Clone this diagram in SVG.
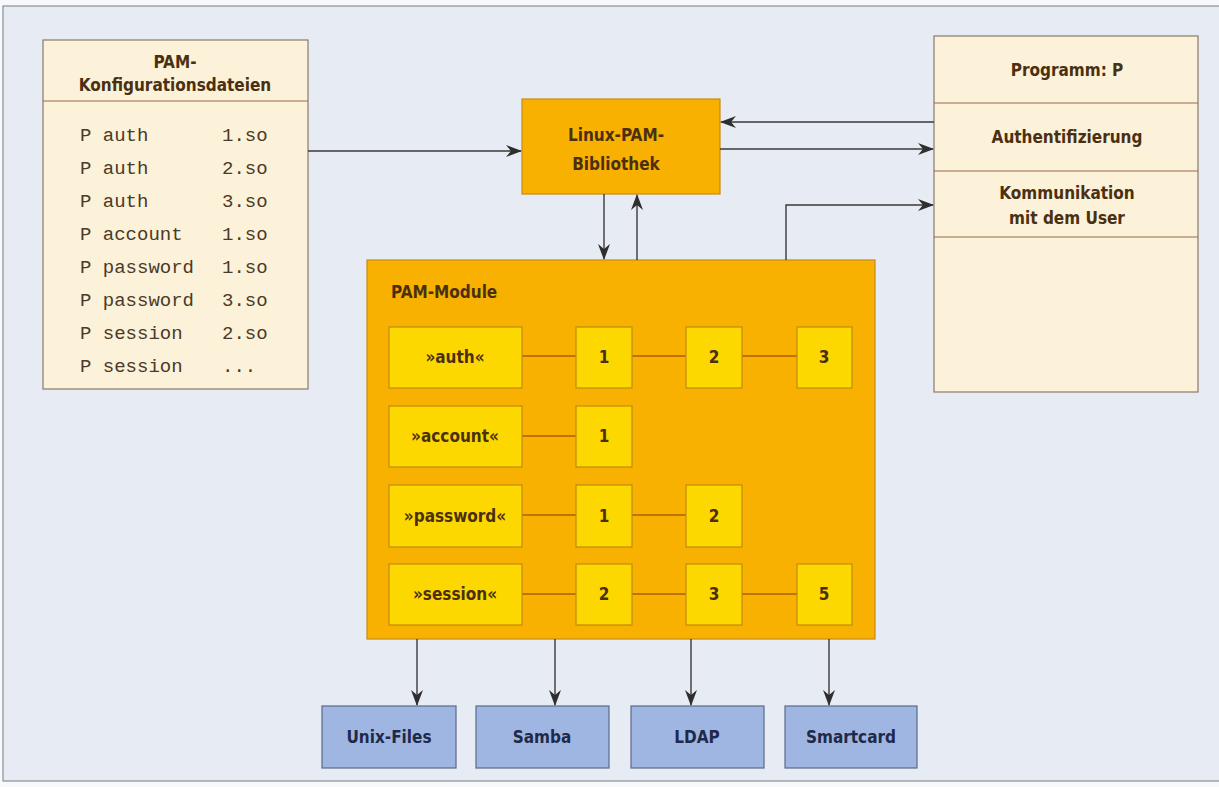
<svg xmlns="http://www.w3.org/2000/svg" width="1219" height="787" viewBox="0 0 1219 787">
<defs>
<marker id="ah" markerWidth="16" markerHeight="12" refX="15" refY="6" orient="auto" markerUnits="userSpaceOnUse">
<path d="M0,0 L16,6 L0,12 L5,6 z" fill="#2e2e2e"/>
</marker>
<style>
.lbl{font-family:"Liberation Sans Narrow","DejaVu Sans Condensed","Liberation Sans",sans-serif;font-weight:bold;font-size:17px;text-anchor:middle}
.brown{fill:#4a3010}
.navy{fill:#1f2a48}
.mono{font-family:"Liberation Mono","Courier New",monospace;font-size:19px;fill:#4a3a28}
.cream{fill:#fcf1d9;stroke:#8a7a6a;stroke-width:1.2}
.sep{stroke:#9a6a50;stroke-width:1.2}
.orange{fill:#f8b100;stroke:#c88a10;stroke-width:1.2}
.yel{fill:#fcd800;stroke:#c08a10;stroke-width:1.2}
.blue{fill:#9fb6e3;stroke:#5a6a8a;stroke-width:1.2}
.conn{stroke:#3a3a3a;stroke-width:1.4;fill:none}
.inner{stroke:#a8600a;stroke-width:1.6;fill:none}
</style>
</defs>
<rect x="0" y="0" width="1219" height="787" fill="#f8f9fb"/>
<rect x="3" y="6" width="1220" height="775" fill="#e7ebf3" stroke="#8a8e96" stroke-width="1.2"/>

<g id="config">
<rect class="cream" x="43" y="40" width="265" height="349"/>
<line class="sep" x1="43" y1="101" x2="308" y2="101"/>
<text class="lbl brown" x="175" y="68">PAM-</text>
<text class="lbl brown" x="175" y="91">Konfigurationsdateien</text>
<text class="mono" x="80" y="141">P auth</text><text class="mono" x="222" y="141">1.so</text>
<text class="mono" x="80" y="174">P auth</text><text class="mono" x="222" y="174">2.so</text>
<text class="mono" x="80" y="207">P auth</text><text class="mono" x="222" y="207">3.so</text>
<text class="mono" x="80" y="240">P account</text><text class="mono" x="222" y="240">1.so</text>
<text class="mono" x="80" y="273">P password</text><text class="mono" x="222" y="273">1.so</text>
<text class="mono" x="80" y="306">P password</text><text class="mono" x="222" y="306">3.so</text>
<text class="mono" x="80" y="339">P session</text><text class="mono" x="222" y="339">2.so</text>
<text class="mono" x="80" y="372">P session</text><text class="mono" x="222" y="372">...</text>
</g>

<g id="library">
<rect class="orange" x="522" y="99" width="198" height="95"/>
<text class="lbl brown" x="616" y="141">Linux-PAM-</text>
<text class="lbl brown" x="616" y="170">Bibliothek</text>
</g>

<g id="program">
<rect class="cream" x="934" y="36" width="264" height="356"/>
<line class="sep" x1="934" y1="103" x2="1198" y2="103"/>
<line class="sep" x1="934" y1="171" x2="1198" y2="171"/>
<line class="sep" x1="934" y1="237" x2="1198" y2="237"/>
<text class="lbl brown" x="1067" y="76">Programm:  P</text>
<text class="lbl brown" x="1067" y="143">Authentifizierung</text>
<text class="lbl brown" x="1067" y="199">Kommunikation</text>
<text class="lbl brown" x="1067" y="224">mit dem User</text>
</g>

<g id="modules">
<rect class="orange" x="367" y="260" width="508" height="379"/>
<text class="lbl brown" x="391" y="298" style="text-anchor:start">PAM-Module</text>
<line class="inner" x1="522" y1="356" x2="797" y2="356"/>
<line class="inner" x1="522" y1="436" x2="576" y2="436"/>
<line class="inner" x1="522" y1="515" x2="686" y2="515"/>
<line class="inner" x1="522" y1="594" x2="797" y2="594"/>
<g id="auth">
<rect class="yel" x="389" y="327" width="133" height="61"/>
<text class="lbl brown" x="455" y="363">»auth«</text>
<rect class="yel" x="576" y="327" width="56" height="61"/><text class="lbl brown" x="604" y="363">1</text>
<rect class="yel" x="686" y="327" width="56" height="61"/><text class="lbl brown" x="714" y="363">2</text>
<rect class="yel" x="797" y="327" width="55" height="61"/><text class="lbl brown" x="824" y="363">3</text>
</g>
<g id="account">
<rect class="yel" x="389" y="406" width="133" height="61"/>
<text class="lbl brown" x="455" y="442">»account«</text>
<rect class="yel" x="576" y="406" width="56" height="61"/><text class="lbl brown" x="604" y="442">1</text>
</g>
<g id="password">
<rect class="yel" x="389" y="485" width="133" height="62"/>
<text class="lbl brown" x="455" y="522">»password«</text>
<rect class="yel" x="576" y="485" width="56" height="62"/><text class="lbl brown" x="604" y="522">1</text>
<rect class="yel" x="686" y="485" width="56" height="62"/><text class="lbl brown" x="714" y="522">2</text>
</g>
<g id="session">
<rect class="yel" x="389" y="564" width="133" height="61"/>
<text class="lbl brown" x="455" y="600">»session«</text>
<rect class="yel" x="576" y="564" width="56" height="61"/><text class="lbl brown" x="604" y="600">2</text>
<rect class="yel" x="686" y="564" width="56" height="61"/><text class="lbl brown" x="714" y="600">3</text>
<rect class="yel" x="797" y="564" width="55" height="61"/><text class="lbl brown" x="824" y="600">5</text>
</g>
</g>

<g id="unixfiles"><rect class="blue" x="322" y="706" width="134" height="62"/><text class="lbl navy" x="389" y="743">Unix-Files</text></g>
<g id="samba"><rect class="blue" x="476" y="706" width="133" height="62"/><text class="lbl navy" x="542" y="743">Samba</text></g>
<g id="ldap"><rect class="blue" x="631" y="706" width="133" height="62"/><text class="lbl navy" x="697" y="743">LDAP</text></g>
<g id="smartcard"><rect class="blue" x="785" y="706" width="132" height="62"/><text class="lbl navy" x="851" y="743">Smartcard</text></g>

<g id="connectors">
<line class="conn" x1="308" y1="151" x2="521" y2="151" marker-end="url(#ah)"/>
<line class="conn" x1="934" y1="122" x2="721" y2="122" marker-end="url(#ah)"/>
<line class="conn" x1="720" y1="149" x2="933" y2="149" marker-end="url(#ah)"/>
<polyline class="conn" points="786,260 786,205 933,205" marker-end="url(#ah)"/>
<line class="conn" x1="604" y1="194" x2="604" y2="259" marker-end="url(#ah)"/>
<line class="conn" x1="637" y1="260" x2="637" y2="195" marker-end="url(#ah)"/>
<line class="conn" x1="417" y1="639" x2="417" y2="705" marker-end="url(#ah)"/>
<line class="conn" x1="555" y1="639" x2="555" y2="705" marker-end="url(#ah)"/>
<line class="conn" x1="691" y1="639" x2="691" y2="705" marker-end="url(#ah)"/>
<line class="conn" x1="829" y1="639" x2="829" y2="705" marker-end="url(#ah)"/>
</g>
</svg>
